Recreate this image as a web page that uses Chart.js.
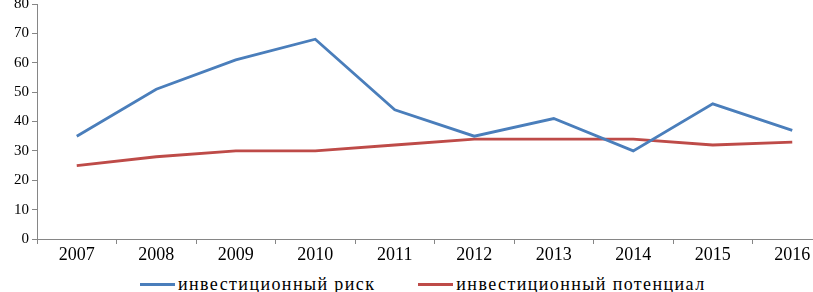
<!DOCTYPE html>
<html>
<head>
<meta charset="utf-8">
<script src="https://cdn.jsdelivr.net/npm/chart.js@4"></script>
<style>
  html, body { margin: 0; padding: 0; background: #fff; overflow: hidden; width: 813px; height: 292px; }
  #wrap { position: absolute; left: 0; top: -10px; width: 835px; height: 280px; }
  #legend { position: absolute; left: 140px; top: 274px; display: flex; font-family: "Liberation Serif", "DejaVu Serif", serif; font-size: 18px; letter-spacing: 1.4px; color: #000; }
  .item { display: flex; align-items: center; margin-right: 43px; }
  .swatch { width: 35px; height: 3px; margin-right: 3px; }
</style>
</head>
<body>
<div id="wrap"><canvas id="chart" width="835" height="280"></canvas></div>
<div id="legend"></div>
<script>
// data
const years = ['2007', '2008', '2009', '2010', '2011', '2012', '2013', '2014', '2015', '2016'];
const riskValues = [35, 51, 61, 68, 44, 35, 41, 30, 46, 37];
const potentialValues = [25, 28, 30, 30, 32, 34, 34, 34, 32, 33];
const seriesNames = ['инвестиционный риск', 'инвестиционный потенциал'];
const seriesColors = ['#4a7ebb', '#be4b48'];
const yTicks = [0, 10, 20, 30, 40, 50, 60, 70, 80];

const axisGray = '#868686';

const ctx = document.getElementById('chart').getContext('2d');
new Chart(ctx, {
    type: 'line',
    data: {
        labels: years,
        datasets: [riskValues, potentialValues].map((vals, i) => ({
            label: seriesNames[i],
            data: vals,
            borderColor: seriesColors[i],
            backgroundColor: seriesColors[i],
            borderWidth: 2.8,
            pointRadius: 0,
            tension: 0
        }))
    },
    options: {
        responsive: false,
        animation: false,
        layout: { padding: { top: 14, right: 3, left: 0, bottom: 0 } },
        plugins: { legend: { display: false }, tooltip: { enabled: false } },
        scales: {
            x: {
                offset: true,
                grid: { display: true, drawOnChartArea: false, offset: true, tickLength: 5, color: axisGray },
                border: { display: true, color: axisGray, width: 1 },
                ticks: { color: '#000', padding: 0, maxRotation: 0, font: { family: 'Liberation Serif', size: 18 } },
                afterFit: (scale) => { scale.height = 31; }
            },
            y: {
                min: yTicks[0],
                max: yTicks[yTicks.length - 1],
                afterBuildTicks: (scale) => { scale.ticks = yTicks.map(v => ({ value: v })); },
                grid: { display: true, drawOnChartArea: false, tickLength: 5, color: axisGray },
                border: { display: true, color: axisGray, width: 1 },
                ticks: { color: '#000', padding: 3, font: { family: 'Liberation Serif', size: 15 } },
                afterFit: (scale) => { scale.width = 37; }
            }
        }
    }
});

// legend as plain html below the canvas
const legendBox = document.getElementById('legend');
legendBox.innerHTML = seriesNames.map((name, i) =>
    `<div class="item"><span class="swatch" style="background:${seriesColors[i]}"></span><span>${name}</span></div>`
).join('');
</script>
</body>
</html>
